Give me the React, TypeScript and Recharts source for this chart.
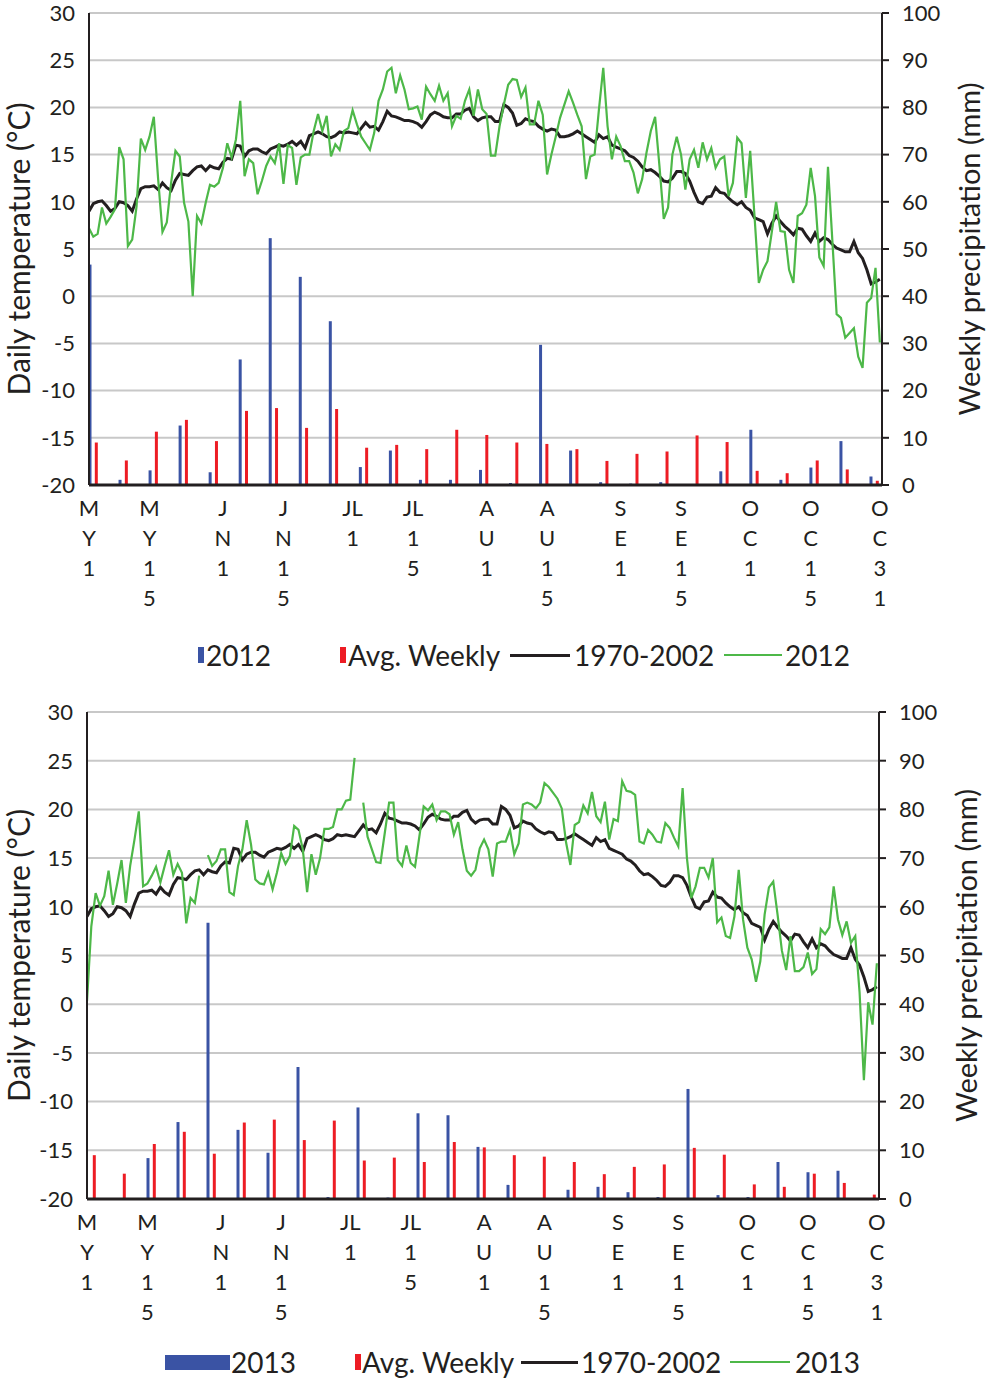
import React from 'react';
import { ComposedChart, Bar, Line, XAxis, YAxis, CartesianGrid, Legend } from 'recharts';

const FONT = 'Lato, "Open Sans", sans-serif';
const INK = '#231f20';
const BLUE = '#3a53a4';
const RED = '#ed1c24';
const GREEN = '#4db848';
const GRID = '#c8c8c8';

// x-axis ticks: day index from May 1 (0) to Oct 31 (183)
const tickDays = [0, 14, 31, 45, 61, 75, 92, 106, 123, 137, 153, 167, 183];
const tickLabels = [
  ['M', 'Y', '1'], ['M', 'Y', '1', '5'], ['J', 'N', '1'], ['J', 'N', '1', '5'],
  ['JL', '1'], ['JL', '1', '5'], ['A', 'U', '1'], ['A', 'U', '1', '5'],
  ['S', 'E', '1'], ['S', 'E', '1', '5'], ['O', 'C', '1'], ['O', 'C', '1', '5'], ['O', 'C', '3', '1'],
];
const tempTicks = [-20, -15, -10, -5, 0, 5, 10, 15, 20, 25, 30];
const precipTicks = [0, 10, 20, 30, 40, 50, 60, 70, 80, 90, 100];

// Daily temperature, long-term mean 1970-2002 (°C), May 1 .. Oct 31
const temp1970_2002 = [
  9.0, 9.8, 10.0, 10.1, 9.6, 9.0, 9.3, 10.0, 9.9, 9.6, 9.0, 10.3, 11.4, 11.6, 11.6, 11.7, 11.3, 12.0, 11.5, 11.2,
  12.3, 13.0, 12.9, 12.8, 13.3, 13.7, 13.8, 13.3, 13.8, 13.6, 13.5, 14.2, 14.6, 14.5, 16.0, 15.9, 14.8, 15.4, 15.6, 15.6,
  15.3, 15.1, 15.6, 15.8, 16.0, 15.9, 16.1, 16.4, 16.0, 16.4, 15.7, 17.0, 17.2, 17.4, 17.2, 16.9, 16.8, 17.0, 17.4, 17.3,
  17.4, 17.3, 17.2, 17.8, 18.4, 17.9, 18.0, 17.6, 18.5, 19.6, 19.1, 19.0, 18.8, 18.6, 18.6, 18.5, 18.3, 17.9, 18.5, 19.2,
  19.5, 19.3, 19.0, 18.9, 18.9, 19.3, 19.3, 19.7, 19.9, 19.0, 18.6, 18.9, 19.0, 19.0, 18.5, 18.5, 20.3, 20.0, 19.4, 18.1,
  18.3, 18.8, 18.6, 18.5, 18.0, 17.7, 17.5, 17.7, 17.6, 16.9, 16.9, 17.0, 17.2, 17.5, 17.2, 16.9, 16.6, 16.3, 17.1, 16.7,
  16.9, 16.0, 15.8, 15.6, 15.4, 14.9, 14.7, 14.3, 13.7, 13.3, 13.4, 13.1, 12.7, 12.2, 12.1, 12.5, 13.2, 13.2, 13.0, 12.2,
  11.0, 10.0, 9.8, 10.5, 10.6, 11.5, 11.0, 10.9, 10.4, 10.0, 9.7, 10.0, 9.4, 9.1, 8.3, 8.1, 7.9, 6.6, 7.7, 8.5,
  7.9, 7.4, 7.0, 6.5, 7.2, 7.1, 6.4, 5.8, 6.7, 5.8, 6.2, 6.0, 5.5, 5.1, 4.9, 4.7, 4.7, 5.8, 4.6, 4.0,
  2.8, 1.3, 1.5, 1.8,
];

// Daily temperature 2012 (°C)
const temp2012 = [
  7.2, 6.3, 6.6, 9.4, 7.7, 8.4, 9.2, 15.8, 14.5, 5.3, 6.0, 9.5, 16.7, 15.5, 16.9, 19.0, 12.4, 6.8, 7.8, 12.0,
  15.4, 14.8, 9.9, 7.9, 0.0, 8.5, 7.7, 9.9, 11.8, 11.6, 12.0, 13.6, 16.2, 14.7, 16.6, 20.7, 12.7, 14.5, 14.1, 10.8,
  12.2, 13.8, 14.8, 14.1, 16.2, 11.9, 16.0, 15.7, 11.8, 14.7, 15.0, 15.0, 17.5, 19.3, 17.5, 19.1, 14.8, 16.1, 15.5, 17.5,
  17.8, 19.7, 18.2, 16.9, 16.2, 15.5, 17.3, 20.7, 21.9, 23.8, 24.2, 21.5, 23.4, 21.9, 19.8, 19.9, 20.1, 18.7, 22.2, 21.4,
  20.7, 22.3, 20.7, 21.5, 18.0, 19.1, 18.8, 20.7, 21.9, 19.1, 21.9, 19.8, 19.3, 14.9, 14.9, 18.0, 20.3, 22.4, 23.0, 22.9,
  21.1, 22.1, 18.2, 18.2, 20.7, 19.2, 12.9, 15.0, 16.9, 18.9, 20.3, 21.7, 20.5, 19.2, 18.0, 12.4, 14.8, 15.0, 19.8, 24.2,
  18.0, 14.5, 16.9, 15.9, 14.3, 14.3, 13.1, 10.9, 12.4, 15.2, 17.5, 19.0, 13.8, 8.2, 9.4, 15.0, 16.9, 15.0, 11.3, 14.5,
  15.5, 13.6, 16.3, 14.5, 15.7, 13.6, 14.5, 14.8, 10.6, 12.0, 16.8, 16.2, 10.4, 15.4, 8.5, 1.4, 2.8, 3.7, 6.8, 10.0,
  6.9, 6.8, 2.8, 1.4, 8.5, 8.8, 9.7, 13.6, 10.6, 4.1, 3.2, 13.7, 6.0, -1.9, -2.3, -4.4, -3.9, -3.4, -6.4, -7.6,
  -0.7, -0.2, 3.0, -4.9,
];

// Daily temperature 2013 (°C); null = missing day
const temp2013 = [
  0.3, 8.0, 11.4, 10.1, 11.1, 13.7, 10.2, 12.4, 14.8, 10.4, 14.2, 16.9, 19.8, 12.1, 12.4, 13.2, 14.1, 12.5, 14.2, 15.8,
  13.3, 14.4, 13.5, 8.3, 10.9, 10.4, 13.2, null, 15.3, 14.2, 14.7, 15.9, 15.9, 11.5, 11.2, 14.2, 15.9, 18.9, 16.4, 12.8,
  12.4, 12.3, 13.5, 11.8, 13.5, 15.5, 14.4, 15.2, 18.3, 17.9, 15.9, 11.5, 15.4, 13.3, 15.0, 18.0, 18.0, 18.2, 20.0, 20.0,
  20.9, 21.0, 25.3, null, 20.7, 17.2, 15.9, 14.6, 14.5, 17.6, 20.7, 20.7, 14.8, 14.2, 16.3, 14.5, 14.1, 17.2, 20.3, 19.9,
  20.5, 18.9, 19.8, 19.8, 19.5, 17.4, 18.7, 15.9, 13.7, 13.2, 13.8, 16.0, 16.9, 15.9, 13.1, 16.5, 16.7, 16.7, 17.9, 15.4,
  16.5, 20.5, 20.7, 20.5, 20.1, 20.7, 22.7, 22.3, 21.7, 21.1, 20.1, 16.6, 14.3, 18.4, 18.7, 20.4, 19.6, 21.8, 19.3, 18.7,
  20.8, 16.9, 19.0, 18.8, 22.9, 21.9, 21.8, 21.5, 16.7, 16.5, 17.9, 17.4, 16.7, 16.6, 18.6, 18.1, 17.1, 16.2, 22.2, 15.0,
  10.9, 12.1, 14.0, 14.0, 13.0, 15.0, 8.4, 8.9, 7.0, 6.8, 9.0, 13.8, 8.7, 5.8, 4.6, 2.3, 4.4, 9.2, 12.0, 12.6,
  9.2, 5.5, 3.5, 7.0, 3.4, 3.4, 3.8, 5.3, 3.1, 3.6, 7.7, 7.2, 7.9, 12.1, 8.7, 7.1, 8.5, 6.3, 7.0, 1.2,
  -7.8, 0.2, -2.1, 4.2,
];

// Weekly precipitation (mm), weeks starting on these day indexes
const weekStartDays = [0, 7, 14, 21, 28, 35, 42, 49, 56, 63, 70, 77, 84, 91, 98, 105, 112, 119, 126, 133, 140, 147, 154, 161, 168, 175, 182];
const precip2012 = [46.7, 1.1, 3.1, 12.6, 2.7, 26.6, 52.3, 44.1, 34.7, 3.8, 7.3, 1.1, 1.1, 3.2, 0.4, 29.7, 7.3, 0.6, 0.3, 0.6, 0, 2.9, 11.7, 1.1, 3.7, 9.3, 1.8];
const precip2013 = [0, 0, 8.4, 15.8, 56.7, 14.2, 9.5, 27.1, 0.4, 18.8, 0.3, 17.6, 17.2, 10.7, 2.9, 0, 1.9, 2.5, 1.4, 0.4, 22.6, 0.8, 0.4, 7.6, 5.5, 5.8, 0];
const precipAvg = [9.0, 5.2, 11.3, 13.8, 9.3, 15.7, 16.3, 12.1, 16.1, 7.9, 8.5, 7.6, 11.7, 10.6, 9.0, 8.7, 7.6, 5.1, 6.6, 7.1, 10.5, 9.1, 3.0, 2.5, 5.2, 3.3, 0.9];

function buildRows(tempYear: (number | null)[], precipYear: number[]) {
  return temp1970_2002.map((t70, d) => {
    const w = weekStartDays.indexOf(d);
    return {
      d,
      t70,
      ty: tempYear[d],
      py: w >= 0 ? precipYear[w] : null,
      pavg: w >= 0 ? precipAvg[w] : null,
    };
  });
}

const rows2012 = buildRows(temp2012, precip2012);
const rows2013 = buildRows(temp2013, precip2013);

const MonthTick = (props: any) => {
  const { x, y, payload } = props;
  const i = tickDays.indexOf(payload.value);
  const lines = i >= 0 ? tickLabels[i] : [];
  return (
    <text x={x} y={y} textAnchor="middle" fill={INK} fontSize={22} fontFamily={FONT}>
      {lines.map((s, j) => (
        <tspan key={j} x={x} y={y + 23 + j * 30}>{s}</tspan>
      ))}
    </text>
  );
};

const AxisTitle = (props: any) => {
  const { viewBox, text, dx, size } = props;
  if (!viewBox) return null;
  const cx = viewBox.x + dx;
  const cy = viewBox.y + viewBox.height / 2;
  return (
    <text x={cx} y={cy} transform={`rotate(-90, ${cx}, ${cy})`} textAnchor="middle" dominantBaseline="central"
      fill={INK} fontSize={size} fontFamily={FONT}>
      {text}
    </text>
  );
};

type Slot = { key: string; kind: 'rect' | 'line'; markLeft: number; markWidth: number; markHeight: number; textLeft: number };

const makeLegend = (slots: Slot[]) => (props: any) => {
  const items: any[] = props.payload || [];
  return (
    <div style={{ position: 'relative', width: 988, height: 34, fontFamily: FONT, fontSize: 28, color: INK }}>
      {slots.map((s) => {
        const item = items.find((p) => p.dataKey === s.key);
        if (!item) return null;
        return (
          <React.Fragment key={s.key}>
            <div style={{
              position: 'absolute', left: s.markLeft, width: s.markWidth,
              top: 17 - s.markHeight / 2, height: s.markHeight, background: item.color,
            }} />
            <div style={{ position: 'absolute', left: s.textLeft, top: 0, lineHeight: '34px', whiteSpace: 'nowrap' }}>
              {item.value}
            </div>
          </React.Fragment>
        );
      })}
    </div>
  );
};

const legendTop: Slot[] = [
  { key: 'py', kind: 'rect', markLeft: 198, markWidth: 6, markHeight: 16, textLeft: 206 },
  { key: 'pavg', kind: 'rect', markLeft: 340, markWidth: 6, markHeight: 16, textLeft: 348 },
  { key: 't70', kind: 'line', markLeft: 510, markWidth: 60, markHeight: 3, textLeft: 574 },
  { key: 'ty', kind: 'line', markLeft: 724, markWidth: 58, markHeight: 2.5, textLeft: 785 },
];
const legendBottom: Slot[] = [
  { key: 'py', kind: 'rect', markLeft: 165, markWidth: 65, markHeight: 15, textLeft: 231 },
  { key: 'pavg', kind: 'rect', markLeft: 355, markWidth: 6, markHeight: 16, textLeft: 362 },
  { key: 't70', kind: 'line', markLeft: 521, markWidth: 57, markHeight: 3, textLeft: 581 },
  { key: 'ty', kind: 'line', markLeft: 730, markWidth: 60, markHeight: 2.5, textLeft: 795 },
];

type PanelProps = {
  rows: any[]; year: string; height: number; marginTop: number; marginBottom: number;
  leftW: number; rightW: number; xHeight: number; slots: Slot[];
};

const Panel = ({ rows, year, height, marginTop, marginBottom, leftW, rightW, xHeight, slots }: PanelProps) => (
  <ComposedChart width={988} height={height} data={rows}
    margin={{ top: marginTop, right: 0, bottom: marginBottom, left: 0 }}>
    <CartesianGrid xAxisId="days" yAxisId="t" vertical={false} stroke={GRID} strokeWidth={2} />
    <XAxis xAxisId="days" dataKey="d" type="number" domain={[0, 183.5]} allowDataOverflow ticks={tickDays}
      interval={0} tick={<MonthTick />} tickLine={false} height={xHeight}
      axisLine={{ stroke: INK, strokeWidth: 3 }} />
    <XAxis xAxisId="wkObs" dataKey="d" type="number" domain={[-0.15, 184.65]} allowDataOverflow hide />
    <XAxis xAxisId="wkAvg" dataKey="d" type="number" domain={[-1.62, 183.18]} allowDataOverflow hide />
    <YAxis yAxisId="t" domain={[-20, 30]} ticks={tempTicks} interval={0} width={leftW} tickLine={false}
      tickMargin={8} axisLine={{ stroke: INK, strokeWidth: 2 }}
      tick={{ fill: INK, fontSize: 22, fontFamily: FONT }}
      label={<AxisTitle text="Daily temperature (°C)" dx={18} size={30} />} />
    <YAxis yAxisId="p" orientation="right" domain={[0, 100]} ticks={precipTicks} interval={0} width={rightW}
      tickSize={7} tickMargin={13} tickLine={{ stroke: INK, strokeWidth: 2 }}
      axisLine={{ stroke: INK, strokeWidth: 2 }}
      tick={{ fill: INK, fontSize: 22, fontFamily: FONT }}
      label={<AxisTitle text="Weekly precipitation (mm)" dx={86} size={29} />} />
    <Bar xAxisId="wkObs" yAxisId="p" dataKey="py" name={year} fill={BLUE} barSize={3} isAnimationActive={false} />
    <Bar xAxisId="wkAvg" yAxisId="p" dataKey="pavg" name="Avg. Weekly" fill={RED} barSize={3} isAnimationActive={false} />
    <Line xAxisId="days" yAxisId="t" dataKey="t70" name="1970-2002" stroke={INK} strokeWidth={3}
      dot={false} activeDot={false} isAnimationActive={false} />
    <Line xAxisId="days" yAxisId="t" dataKey="ty" name={year} stroke={GREEN} strokeWidth={2.2}
      dot={false} activeDot={false} isAnimationActive={false} />
    <Legend verticalAlign="bottom" height={34} content={makeLegend(slots)}
      wrapperStyle={{ left: 0, width: 988, height: 34 }} />
  </ComposedChart>
);

export default function App() {
  return (
    <div style={{ position: 'absolute', left: 0, top: 0, width: 988, height: 1379, background: '#fff' }}>
      <div style={{ position: 'absolute', left: 0, top: 0 }}>
        <Panel rows={rows2012} year="2012" height={690} marginTop={13} marginBottom={18}
          leftW={89} rightW={106} xHeight={153} slots={legendTop} />
      </div>
      <div style={{ position: 'absolute', left: 0, top: 690 }}>
        <Panel rows={rows2013} year="2013" height={689} marginTop={22} marginBottom={0}
          leftW={87} rightW={109} xHeight={146} slots={legendBottom} />
      </div>
    </div>
  );
}
